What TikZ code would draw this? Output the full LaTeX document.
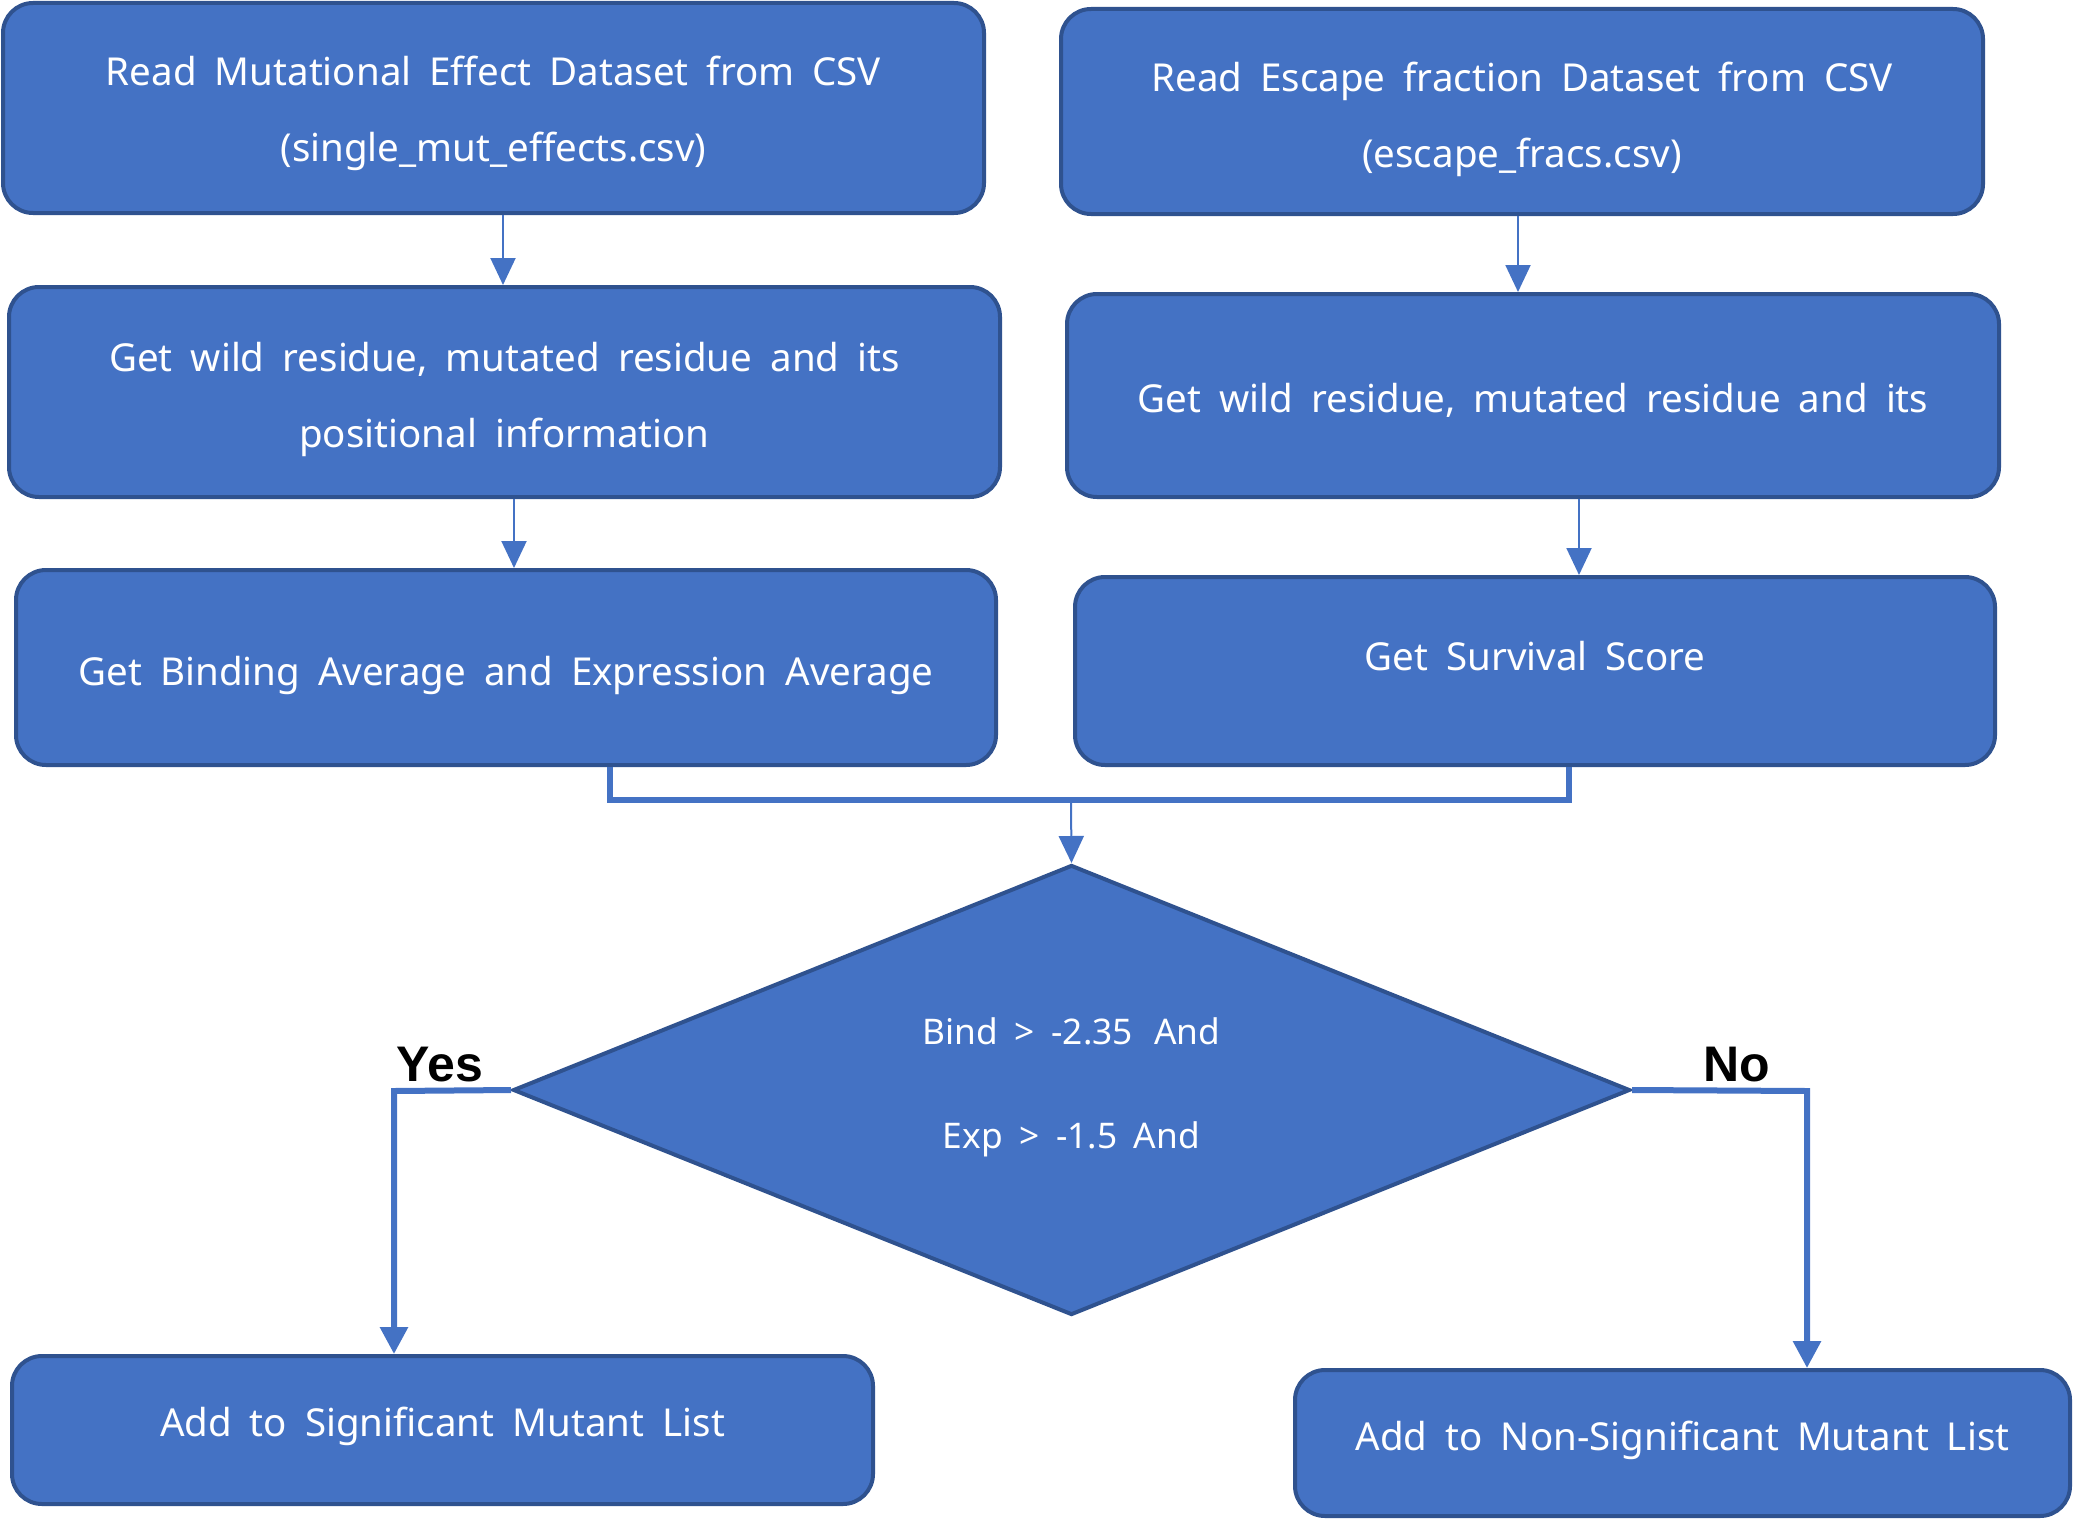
\documentclass[tikz,border=0pt]{standalone}
\usepackage{fontspec}
\setmainfont{Noto Sans}[WordSpace=1.8]
\newfontfamily\lblfont{Liberation Sans}
\usetikzlibrary{arrows.meta,shapes.geometric}
\definecolor{fillb}{HTML}{4472C4}
\definecolor{edgeb}{HTML}{2F528F}
\begin{document}
\begin{tikzpicture}[x=1pt,y=-1pt,
  box/.style={draw=edgeb, line width=4pt, fill=fillb, rounded corners=30pt, inner sep=0pt},
  txt/.style={text=white, align=center, font=\fontsize{38.5}{76}\selectfont, inner sep=0pt},
  dia/.style={diamond, draw=edgeb, line width=4pt, fill=fillb, inner sep=0pt, aspect=2.5},
  dtxt/.style={text=white, align=center, font=\fontsize{35.3}{104}\selectfont, inner sep=0pt},
  thinarrow/.style={draw=fillb, line width=2pt, -{Triangle[width=25pt,length=27pt]}},
  thickline/.style={draw=fillb, line width=6pt},
  thickarrow/.style={draw=fillb, line width=6pt, -{Triangle[width=27pt,length=27pt]}},
  lbl/.style={font=\lblfont\fontsize{50}{50}\selectfont\bfseries, text=black}
]
\useasboundingbox (0,0) rectangle (2074,1520);

\node[box, minimum width=981pt, minimum height=210pt] (b1) at (493.5,108) {};
\node[box, minimum width=991pt, minimum height=210pt] (b2) at (504.5,392) {};
\node[box, minimum width=980pt, minimum height=195pt] (b3) at (506,667.5) {};
\node[box, minimum width=922pt, minimum height=205pt] (r1) at (1522,111.5) {};
\node[box, minimum width=932pt, minimum height=203pt] (r2) at (1533,395.5) {};
\node[box, minimum width=920pt, minimum height=188pt] (r3) at (1535,671) {};
\node[dia, minimum width=1117pt, minimum height=450pt] (d) at (1071.5,1090) {};
\node[box, minimum width=861pt, minimum height=148pt] (yes) at (442.5,1430) {};
\node[box, minimum width=775pt, minimum height=146pt] (no) at (1682.5,1443) {};

\node[txt, yshift=-5pt] (b1t) at (b1.center)
  {Read Mutational Effect Dataset from CSV\\(single\_mut\_effects.csv)};
\node[txt, yshift=-7pt] (b2t) at (b2.center)
  {Get wild residue, mutated residue and its\\positional information};
\node[txt, yshift=-8pt] (b3t) at (b3.center)
  {Get Binding Average and Expression Average};
\node[txt, yshift=-8pt] (r1t) at (r1.center)
  {Read Escape fraction Dataset from CSV\\(escape\_fracs.csv)};
\node[txt, yshift=-5pt] (r2t) at (r2.center)
  {Get wild residue, mutated residue and its};
\node[txt, yshift=15pt] (r3t) at (r3.center)
  {Get Survival Score};
\node[dtxt, yshift=3pt] (dt) at (d.center)
  {Bind > -2.35\hspace{0.6em}And\\Exp > -1.5 And};
\node[txt, yshift=4pt] (yest) at (yes.center)
  {Add to Significant Mutant List};
\node[txt, yshift=3pt] (not) at (no.center)
  {Add to Non-Significant Mutant List};

% arrows
\draw[thinarrow] (b1.south -| 503,0) -- (b2.north -| 503,0);
\draw[thinarrow] (b2.south -| 514,0) -- (b3.north -| 514,0);
\draw[thinarrow] (r1.south -| 1518,0) -- (r2.north -| 1518,0);
\draw[thinarrow] (r2.south -| 1579,0) -- (r3.north -| 1579,0);

\coordinate (jl) at (610,800);
\coordinate (jr) at (1569,800);
\coordinate (jm) at (1071,800);
\draw[thickline] (b3.south -| jl) -- (jl) -- (jr) -- (r3.south -| jr);
\draw[thinarrow] (jm) -- (d.north);

\coordinate (yx) at (394,1091);
\coordinate (nx) at (1807,1091);
\draw[thickarrow] (d.west) -- (yx) -- (yes.north -| yx);
\draw[thickarrow] (d.east) -- (nx) -- (no.north -| nx);

\node[lbl] (ly) at (440,1065) {Yes};
\node[lbl] (ln) at (1737,1065) {No};
\end{tikzpicture}
\end{document}
